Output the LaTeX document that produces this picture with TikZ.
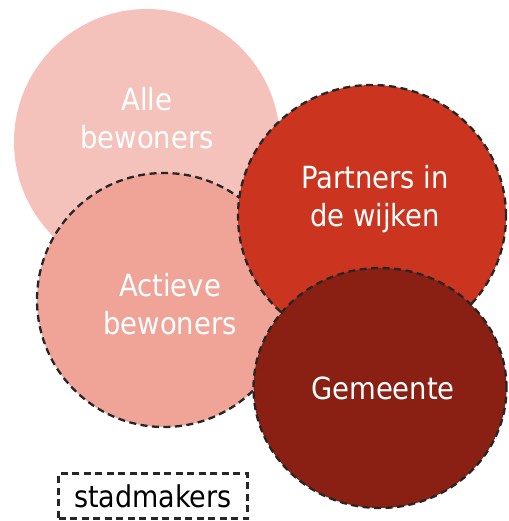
\documentclass[tikz,border=0pt]{standalone}
\usepackage{fontspec}
\setmainfont{DejaVu Sans Condensed}
\usetikzlibrary{shapes.geometric}

\definecolor{alle}{HTML}{F4C2BB}
\definecolor{actief}{HTML}{EFA497}
\definecolor{partner}{HTML}{CB351F}
\definecolor{gemeente}{HTML}{8A2013}

\begin{document}
\begin{tikzpicture}[x=1pt,y=-1pt,
      blob/.style={circle,inner sep=0pt},
      dashed edge/.style={draw=black!85,line width=2.3pt,dash pattern=on 7pt off 4.5pt},
      white text/.style={text=white,align=center,font=\fontsize{30.5}{38}\selectfont}]
    \useasboundingbox (0,0) rectangle (508,521);

        \node[blob,fill=alle,minimum size=266pt] (1) at (147,142) {};
        \node[blob,fill=actief,dashed edge,minimum size=254pt] (2) at (164,300) {};
        \node[ellipse,inner sep=0pt,fill=partner,dashed edge,minimum width=268pt,minimum height=262pt] (3) at (372,216) {};
        \node[ellipse,inner sep=0pt,fill=gemeente,dashed edge,minimum width=253pt,minimum height=240pt] (4) at (380,388) {};

        \node[white text] (t1) at (147,118) {Alle\\bewoners};
        \node[white text] (t2) at (170,304) {Actieve\\bewoners};
        \node[white text] (t3) at (375,199) {Partners in\\de wijken};
        \node[white text] (t4) at (383,388) {Gemeente};

        \node[dashed edge,font=\fontsize{30}{36}\selectfont,minimum width=189pt,minimum height=45pt,inner sep=0pt] (5) at (153,496) {stadmakers};
    \end{tikzpicture}
\end{document}
